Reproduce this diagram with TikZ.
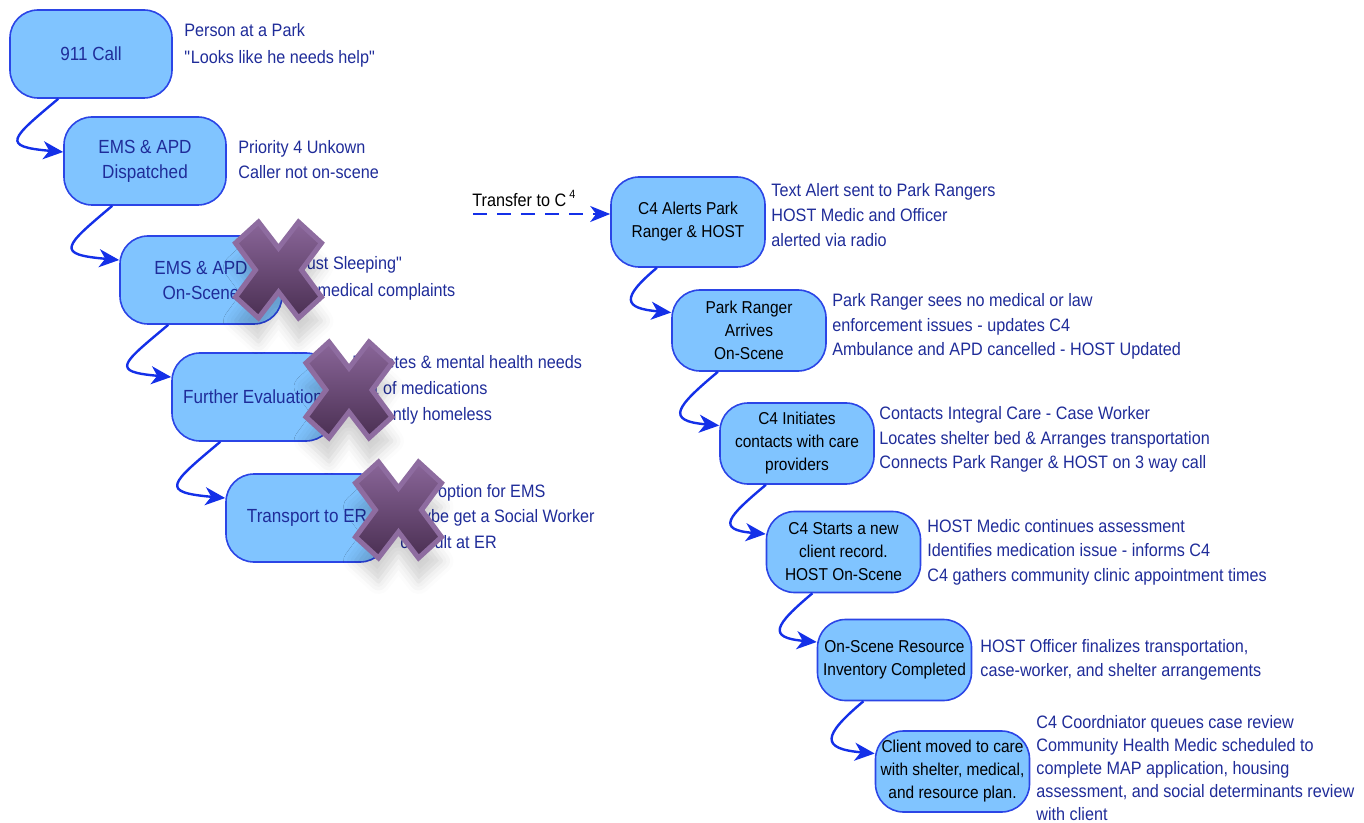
\documentclass[tikz,border=0pt]{standalone}
\usepackage{fontspec}
\setmainfont{Liberation Sans}[FakeStretch=0.9]
\usetikzlibrary{arrows.meta, positioning, calc, shadows.blur}
\definecolor{boxFill}{HTML}{80C4FF}
\definecolor{boxEdge}{HTML}{2B45E6}
\definecolor{flowBlue}{HTML}{1430E8}
\definecolor{navyText}{HTML}{1F2C99}
\definecolor{crossTop}{HTML}{8A6699}
\definecolor{crossBot}{HTML}{4A2F52}
\definecolor{crossEdge}{HTML}{8E6CA0}
\newcommand{\qq}{\textquotedbl}
\tikzset{
  arrowB/.style={-{Stealth[length=10pt, width=9pt, inset=3pt]}, flowBlue, line width=1.2pt},
  arrowDash/.style={-{Stealth[length=10pt, width=8pt, inset=3pt]}, flowBlue,
                    line width=1.2pt, dash pattern=on 7pt off 5pt},
  boxL/.style={rectangle, rounded corners=14pt, draw=boxEdge, line width=0.8pt, fill=boxFill,
               text=navyText, align=center, font=\fontsize{9.5}{12.5}\selectfont,
               inner sep=1pt, minimum width=81pt, minimum height=44pt},
  boxR/.style={rectangle, rounded corners=14pt, draw=boxEdge, line width=0.8pt, fill=boxFill,
               text=black, align=center, font=\fontsize{8.6}{11.5}\selectfont,
               inner sep=1pt, minimum width=77pt, minimum height=40.5pt},
  noteText/.style={anchor=west, align=left, text=navyText, inner sep=0pt,
                   font=\fontsize{9}{12.3}\selectfont},
  crossX/.style={top color=crossTop, bottom color=crossBot, draw=crossEdge, line width=2.5pt,
                 blur shadow={shadow xshift=0pt, shadow yshift=-12pt, shadow opacity=18,
                              shadow blur radius=6pt}},
  crossmark/.pic={
    \path[crossX] (-43,-27) -- (-20,-48) -- (0,-22) -- (20,-48) -- (43,-27) -- (23,0)
      -- (43,27) -- (20,48) -- (0,22) -- (-20,48) -- (-43,27) -- (-23,0) -- cycle;
  },
}
\begin{document}
\begin{tikzpicture}[x=0.5pt, y=-0.5pt]
    \useasboundingbox (0,0) rectangle (1364,823);
    % 911 side
    \node[boxL] (call)     at (91,54)   {911 Call};
    \node[boxL] (dispatch) at (145,161) {EMS \& APD\\Dispatched};
    \node[boxL] (onscene)  at (201,280) {EMS \& APD\\On-Scene};
    \node[boxL] (furthev)  at (253,397) {Further Evaluation};
    \node[boxL] (toer)     at (307,518) {Transport to ER};
    \node[noteText, font=\fontsize{9}{13.5}\selectfont] (callN) at (184,45.5) {Person at a Park\\\qq Looks like he needs help\qq};
    \node[noteText] (dispatchN) at (238,159.5) {Priority 4 Unkown\\Caller not on-scene};
    \node[noteText, font=\fontsize{9}{13.5}\selectfont] (onsceneN) at (292,278.5) {\qq Just Sleeping\qq\\No medical complaints};
    \node[noteText, font=\fontsize{9}{13}\selectfont] (furthevN) at (352,390) {Diabetes \& mental health needs\\Out of medications\\Currently homeless};
    \node[noteText, font=\fontsize{9}{12.8}\selectfont] (toerN) at (400,516.5) {Only option for EMS\\Maybe get a Social Worker\\consult at ER};
    % C4 side
    \node[boxR, minimum height=45pt] (alert) at (688,222) {C4 Alerts Park\\Ranger \& HOST};
    \node[boxR] (ranger)   at (749,330.5) {Park Ranger\\Arrives\\On-Scene};
    \node[boxR] (contacts) at (797,443.5) {C4 Initiates\\contacts with care\\providers};
    \node[boxR] (record)   at (843.5,552) {C4 Starts a new\\client record.\\HOST On-Scene};
    \node[boxR] (invent)   at (894.5,660) {On-Scene Resource\\Inventory Completed};
    \node[boxR] (moved)    at (952.5,771.5) {Client moved to care\\with shelter, medical,\\and resource plan.};
    \node[noteText] (alertN)    at (771,215)   {Text Alert sent to Park Rangers\\HOST Medic and Officer\\alerted via radio};
    \node[noteText] (rangerN)   at (832,326.5) {Park Ranger sees no medical or law\\enforcement issues - updates C4\\Ambulance and APD cancelled - HOST Updated};
    \node[noteText] (contactsN) at (879,439.5) {Contacts Integral Care - Case Worker\\Locates shelter bed \& Arranges transportation\\Connects Park Ranger \& HOST on 3 way call};
    \node[noteText] (recordN)   at (927,552)   {HOST Medic continues assessment\\Identifies medication issue - informs C4\\C4 gathers community clinic appointment times};
    \node[noteText] (inventN)   at (980,660)   {HOST Officer finalizes transportation,\\case-worker, and shelter arrangements};
    \node[noteText, font=\fontsize{9}{11.5}\selectfont] (movedN) at (1036,768)
      {C4 Coordniator queues case review\\Community Health Medic scheduled to\\complete MAP application, housing\\assessment, and social determinants review\\with client};
    % transfer
    \coordinate (tstart) at (473,214);
    \node[anchor=south west, inner sep=0pt, font=\fontsize{9}{11}\selectfont] (transfer)
      at (472,207) {Transfer to C\,\textsuperscript{4}};
    \draw[arrowDash] (tstart) -- ([yshift=4pt]alert.west);
    % flow arrows
    \draw[arrowB] ($(call.south west)!0.3!(call.south east)$) to[out=-140, in=175, looseness=3] ([yshift=4.5pt]dispatch.west);
    \draw[arrowB] ($(dispatch.south west)!0.3!(dispatch.south east)$) to[out=-140, in=175, looseness=3] ([yshift=10pt]onscene.west);
    \draw[arrowB] ($(onscene.south west)!0.3!(onscene.south east)$) to[out=-140, in=175, looseness=3] ([yshift=10pt]furthev.west);
    \draw[arrowB] ($(furthev.south west)!0.3!(furthev.south east)$) to[out=-140, in=175, looseness=3] ([yshift=10pt]toer.west);
    \draw[arrowB] ($(alert.south west)!0.3!(alert.south east)$) to[out=-140, in=175, looseness=2.6] ([yshift=9pt]ranger.west);
    \draw[arrowB] ($(ranger.south west)!0.3!(ranger.south east)$) to[out=-140, in=175, looseness=2.6] ([yshift=9pt]contacts.west);
    \draw[arrowB] ($(contacts.south west)!0.3!(contacts.south east)$) to[out=-140, in=175, looseness=2.6] ([yshift=9pt]record.west);
    \draw[arrowB] ($(record.south west)!0.3!(record.south east)$) to[out=-140, in=175, looseness=2.6] ([yshift=9pt]invent.west);
    \draw[arrowB] ($(invent.south west)!0.3!(invent.south east)$) to[out=-140, in=175, looseness=2.6] ([yshift=9pt]moved.west);
    % crossed out steps
    \pic at (278.5,270) {crossmark};
    \pic at (349,390) {crossmark};
    \pic at (398.5,510) {crossmark};
\end{tikzpicture}
\end{document}
